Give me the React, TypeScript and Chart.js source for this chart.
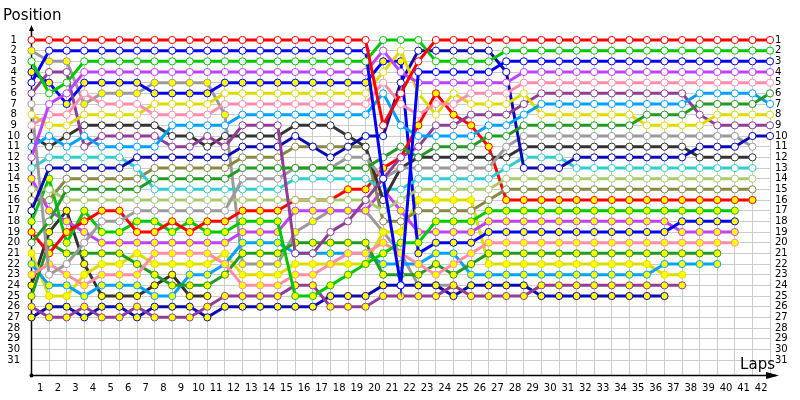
import React, { useEffect, useRef } from "react";
import { Chart, registerables } from "chart.js";

Chart.register(...registerables);

// ---- data ----
const lapNumbers = [0,1,2,3,4,5,6,7,8,9,10,11,12,13,14,15,16,17,18,19,20,21,22,23,24,25,26,27,28,29,30,31,32,33,34,35,36,37,38,39,40,41,42];
const lapLabels = ["1","2","3","4","5","6","7","8","9","10","11","12","13","14","15","16","17","18","19","20","21","22","23","24","25","26","27","28","29","30","31","32","33","34","35","36","37","38","39","40","41","42"];
const positionLabels = [1,2,3,4,5,6,7,8,9,10,11,12,13,14,15,16,17,18,19,20,21,22,23,24,25,26,27,28,29,30,31];
const yTitle = "Position";
const xTitle = "Laps";

const N = null;
// class A (white markers)
const redW = [1,1,1,1,1,1,1,1,1,1, 1,1,1,1,1,1,1,1,1,1, 9,6,3,1,1,1,1,1,1,1, 1,1,1,1,1,1,1,1,1,1, 1,1,1];
const greenW = [3,6,5,3,3,3,3,3,3,3, 3,3,3,3,3,3,3,3,3,3, 1,1,1,3,3,3,3,2,2,2, 2,2,2,2,2,2,2,2,2,2, 2,2,2];
const blueW = [5,2,2,2,2,2,2,2,2,2, 2,2,2,2,2,2,2,2,2,2, 14,24,4,4,4,4,4,3,3,3, 3,3,3,3,3,3,3,3,3,3, 3,3,3];
const violetW = [12,7,6,4,4,4,4,4,4,4, 4,4,4,4,4,4,4,4,4,4, 2,4,5,5,5,5,5,5,4,4, 4,4,4,4,4,4,4,4,4,4, 4,4,4];
const pinkW = [9,8,8,6,7,7,7,8,8,8, 8,7,7,7,7,7,7,7,7,7, 5,7,8,7,7,6,6,6,5,5, 5,5,5,5,5,5,5,5,5,5, 5,5,5];
const purpleW = [6,4,4,11,10,10,10,10,11,11, 10,11,9,9,9,21,21,19,18,16, 14,12,11,9,9,8,8,8,7,6, 6,6,6,6,6,6,6,6,8,9, 9,9,9];
const lblueW = [11,10,11,10,11,11,11,11,9,9, 9,9,8,8,8,8,8,8,8,8, 6,9,10,10,10,10,9,9,8,7, 7,7,7,7,7,7,7,7,6,6, 6,6,7];
const yellowW = [8,9,9,8,8,8,8,7,7,7, 7,6,6,6,6,6,6,6,6,6, 4,2,6,8,6,7,7,7,6,8, 8,8,8,8,8,9,9,9,9,8, 8,8,8];
const dgreenW = [20,18,15,15,15,15,15,14,14,14, 14,14,13,13,13,13,13,13,13,13, 12,11,12,11,11,11,10,10,9,9, 9,9,9,9,9,8,8,8,7,7, 7,7,6];
const navyW = [17,13,13,13,13,13,12,12,12,12, 12,12,11,11,11,10,11,12,11,10, 10,5,2,2,2,2,2,4,13,13, 13,12,12,12,12,12,12,12,11,11, 11,10,10];
const grayW = [7,23,22,20,18,18,17,17,17,17, 17,17,14,14,14,13,13,13,12,12, 14,13,13,13,13,13,13,11,10,10, 10,10,10,10,10,10,10,10,10,10, 10,11,N];
const blackW = [10,11,10,9,9,9,9,9,10,10, 11,10,10,10,10,9,9,9,10,11, 16,13,12,12,12,12,12,12,11,11, 11,11,11,11,11,11,11,11,12,12, 12,12,N];
const cyanW = [13,12,12,12,12,12,13,15,15,15, 15,15,15,15,15,14,14,14,14,14, 15,15,14,14,14,14,14,13,12,12, 12,13,13,13,13,13,13,13,13,13, 13,13,N];
const lgreenW = [15,15,16,16,16,16,16,16,16,16, 16,16,16,16,16,16,16,16,16,16, 17,16,15,15,15,15,15,14,14,14, 14,14,14,14,14,14,14,14,14,14, 14,14,N];
const oliveW = [16,16,14,14,14,14,14,13,13,13, 13,13,12,12,12,11,11,11,11,11, 18,18,17,17,17,17,16,15,15,15, 15,15,15,15,15,15,15,15,15,15, 15,15,N];
// class B (yellow markers)
const redY = [19,21,19,18,17,17,19,19,18,19, 18,18,17,17,17,16,16,16,15,15, 13,12,9,6,8,9,11,16,16,16, 16,16,16,16,16,16,16,16,16,16, 16,16,N];
const greenY = [18,14,20,17,19,19,18,18,19,18, 19,19,18,18,18,25,25,24,23,22, 21,20,20,18,18,18,17,17,17,17, 17,17,17,17,17,17,17,17,17,17, 17,N,N];
const blueY = [4,5,7,5,5,5,5,6,6,6, 6,5,5,5,5,5,5,5,5,5, 3,3,21,20,20,20,19,19,19,19, 19,19,19,19,19,19,19,18,18,18, 18,N,N];
const violetY = [14,17,18,19,20,20,20,20,20,20, 20,20,19,19,19,17,17,17,17,17, 15,17,19,19,19,19,18,18,18,18, 18,18,18,18,18,18,18,19,19,19, 19,N,N];
const pinkY = [23,22,23,24,23,23,23,21,21,21, 21,22,24,24,24,23,23,22,21,21, 20,21,22,23,22,21,20,20,20,20, 20,20,20,20,20,20,20,20,20,20, 20,N,N];
const dgreenY = [25,20,21,21,21,21,22,23,24,24, 24,23,21,21,21,20,20,20,20,20, 23,23,23,22,23,22,21,21,21,21, 21,21,21,21,21,21,21,21,21,21, N,N,N];
const lblueY = [22,24,24,25,24,24,24,25,25,23, 23,22,20,20,20,21,21,21,21,21, 22,22,22,21,21,23,23,23,23,23, 23,23,23,23,23,23,22,22,22,22, N,N,N];
const yellowY = [21,25,25,23,22,22,21,22,22,22, 22,21,23,23,23,22,22,22,22,22, 19,19,16,16,16,16,22,22,22,22, 22,22,22,22,22,22,23,23,N,N, N,N,N];
const purpleY = [26,27,27,26,27,27,26,27,27,27, 26,25,25,25,25,24,24,26,26,26, 25,25,25,25,24,25,25,25,25,24, 24,24,24,24,24,24,24,24,N,N, N,N,N];
const navyY = [27,26,26,27,26,26,27,26,26,26, 27,26,26,26,26,26,26,25,25,25, 24,24,24,24,25,24,24,24,24,25, 25,25,25,25,25,25,25,N,N,N, N,N,N];
const grayY = [2,3,3,7,6,6,6,5,5,5, 5,8,22,22,22,19,18,17,17,17, 19,21,24,24,24,N,N,N,N,N, N,N,N,N,N,N,N,N,N,N, N,N,N];
const blackY = [24,19,17,22,25,25,25,24,23,25, 25,N,N,N,N,N,N,N,N,N, N,N,N,N,N,N,N,N,N,N, N,N,N,N,N,N,N,N,N,N, N,N,N];

const WHITE = "#ffffff";
const YELLOW = "#ffff00";

const series = [
  { name: "A1", data: redW, color: "#ff0000", fill: WHITE },
  { name: "A2", data: greenW, color: "#00c800", fill: WHITE },
  { name: "A3", data: blueW, color: "#0000ff", fill: WHITE },
  { name: "A4", data: violetW, color: "#c040ff", fill: WHITE },
  { name: "A5", data: pinkW, color: "#ff8caa", fill: WHITE },
  { name: "A6", data: dgreenW, color: "#229922", fill: WHITE },
  { name: "A7", data: lblueW, color: "#00a0ff", fill: WHITE },
  { name: "A8", data: yellowW, color: "#dcdc00", fill: WHITE },
  { name: "A9", data: purpleW, color: "#903c98", fill: WHITE },
  { name: "A10", data: navyW, color: "#0a0ab4", fill: WHITE },
  { name: "A11", data: grayW, color: "#9a9a9a", fill: WHITE },
  { name: "A12", data: blackW, color: "#333333", fill: WHITE },
  { name: "A13", data: cyanW, color: "#33cccc", fill: WHITE },
  { name: "A14", data: lgreenW, color: "#a8cc6c", fill: WHITE },
  { name: "A15", data: oliveW, color: "#888844", fill: WHITE },
  { name: "B1", data: redY, color: "#ff0000", fill: YELLOW },
  { name: "B2", data: greenY, color: "#00c800", fill: YELLOW },
  { name: "B3", data: blueY, color: "#0000ff", fill: YELLOW },
  { name: "B4", data: violetY, color: "#c040ff", fill: YELLOW },
  { name: "B5", data: pinkY, color: "#ff8caa", fill: YELLOW },
  { name: "B6", data: dgreenY, color: "#229922", fill: YELLOW },
  { name: "B7", data: lblueY, color: "#00a0ff", fill: YELLOW },
  { name: "B8", data: yellowY, color: "#dcdc00", fill: YELLOW },
  { name: "B9", data: purpleY, color: "#903c98", fill: YELLOW },
  { name: "B10", data: navyY, color: "#0a0ab4", fill: YELLOW },
  { name: "B11", data: grayY, color: "#9a9a9a", fill: YELLOW },
  { name: "B12", data: blackY, color: "#333333", fill: YELLOW },
];

const FONT = "DejaVu Sans";

const axesPlugin = {
  id: "lapAxes",
  beforeDatasetsDraw(chart: any) {
    const { ctx, chartArea } = chart;
    const x0 = chart.scales.x.getPixelForValue(0);
    const yb = chartArea.bottom;
    ctx.save();
    ctx.strokeStyle = "#000";
    ctx.fillStyle = "#000";
    ctx.lineWidth = 1.5;
    ctx.beginPath();
    ctx.moveTo(x0, yb);
    ctx.lineTo(x0, 29);
    ctx.moveTo(x0, yb);
    ctx.lineTo(chartArea.right + 6, yb);
    ctx.stroke();
    ctx.beginPath();
    ctx.moveTo(x0, 25);
    ctx.lineTo(x0 - 2.5, 31);
    ctx.lineTo(x0 + 2.5, 31);
    ctx.closePath();
    ctx.fill();
    ctx.beginPath();
    ctx.moveTo(chartArea.right + 9, yb);
    ctx.lineTo(chartArea.right - 4, yb - 3.5);
    ctx.lineTo(chartArea.right - 4, yb + 3.5);
    ctx.closePath();
    ctx.fill();
    ctx.beginPath();
    ctx.arc(x0, yb, 2, 0, Math.PI * 2);
    ctx.fill();
    ctx.font = `15px "${FONT}"`;
    ctx.textBaseline = "alphabetic";
    ctx.textAlign = "left";
    ctx.fillText(yTitle, 3, 20);
    ctx.textAlign = "right";
    ctx.fillText(xTitle, chartArea.right + 5, 369);
    ctx.restore();
  },
};

export default function App() {
  const ref = useRef<HTMLCanvasElement | null>(null);
  useEffect(() => {
    if (!ref.current) return;
    const datasets = series.map((s) => ({
      label: s.name,
      data: lapNumbers.map((x, i) => ({ x, y: s.data[i] })),
      borderColor: s.color,
      backgroundColor: s.color,
      pointBackgroundColor: s.fill,
      pointBorderColor: s.color,
      pointRadius: 3.6,
      pointBorderWidth: 1,
      borderWidth: 3,
      tension: 0,
      clip: false as any,
      spanGaps: false,
    }));
    const tickFont = { family: FONT, size: 10 };
    const chart = new Chart(ref.current, {
      type: "line",
      data: { datasets },
      options: {
        responsive: false,
        animation: false,
        layout: { padding: { top: 40, left: 0, right: 0, bottom: 0 } },
        plugins: { legend: { display: false }, tooltip: { enabled: false } },
        scales: {
          x: {
            type: "linear",
            min: 0,
            max: 42,
            position: "bottom",
            grid: { color: "#cccccc", lineWidth: 1, drawTicks: false },
            border: { display: false },
            afterBuildTicks: (scale: any) => {
              scale.ticks = lapNumbers.map((v) => ({ value: v }));
            },
            afterFit: (scale: any) => {
              scale.height = 24.5;
            },
            ticks: {
              autoSkip: false,
              maxRotation: 0,
              padding: 7,
              labelOffset: -8.8,
              color: "#000",
              font: tickFont,
              callback: (v: any) => (v >= 1 ? lapLabels[v - 1] : ""),
            },
          },
          y: {
            type: "linear",
            reverse: true,
            min: 1,
            max: 32.45,
            position: "left",
            grid: { color: "#cccccc", lineWidth: 1, drawTicks: false },
            border: { display: false },
            afterBuildTicks: (scale: any) => {
              scale.ticks = positionLabels.map((v) => ({ value: v }));
            },
            afterFit: (scale: any) => {
              scale.width = 31.5;
            },
            ticks: {
              autoSkip: false,
              padding: 11.5,
              crossAlign: "center",
              color: "#000",
              font: tickFont,
              callback: (v: any) => String(v),
            },
          },
          y2: {
            type: "linear",
            reverse: true,
            min: 1,
            max: 32.45,
            position: "right",
            grid: { display: false, drawTicks: false },
            border: { display: false },
            afterBuildTicks: (scale: any) => {
              scale.ticks = positionLabels.map((v) => ({ value: v }));
            },
            afterFit: (scale: any) => {
              scale.width = 30;
            },
            ticks: {
              autoSkip: false,
              padding: 5,
              crossAlign: "near",
              color: "#000",
              font: tickFont,
              callback: (v: any) => String(v),
            },
          },
        },
      },
      plugins: [axesPlugin],
    } as any);
    return () => chart.destroy();
  }, []);
  return (
    <div style={{ position: "absolute", left: 0, top: 0, width: 800, height: 400, background: "#fff" }}>
      <canvas ref={ref} width={800} height={400} style={{ display: "block" }} />
    </div>
  );
}
